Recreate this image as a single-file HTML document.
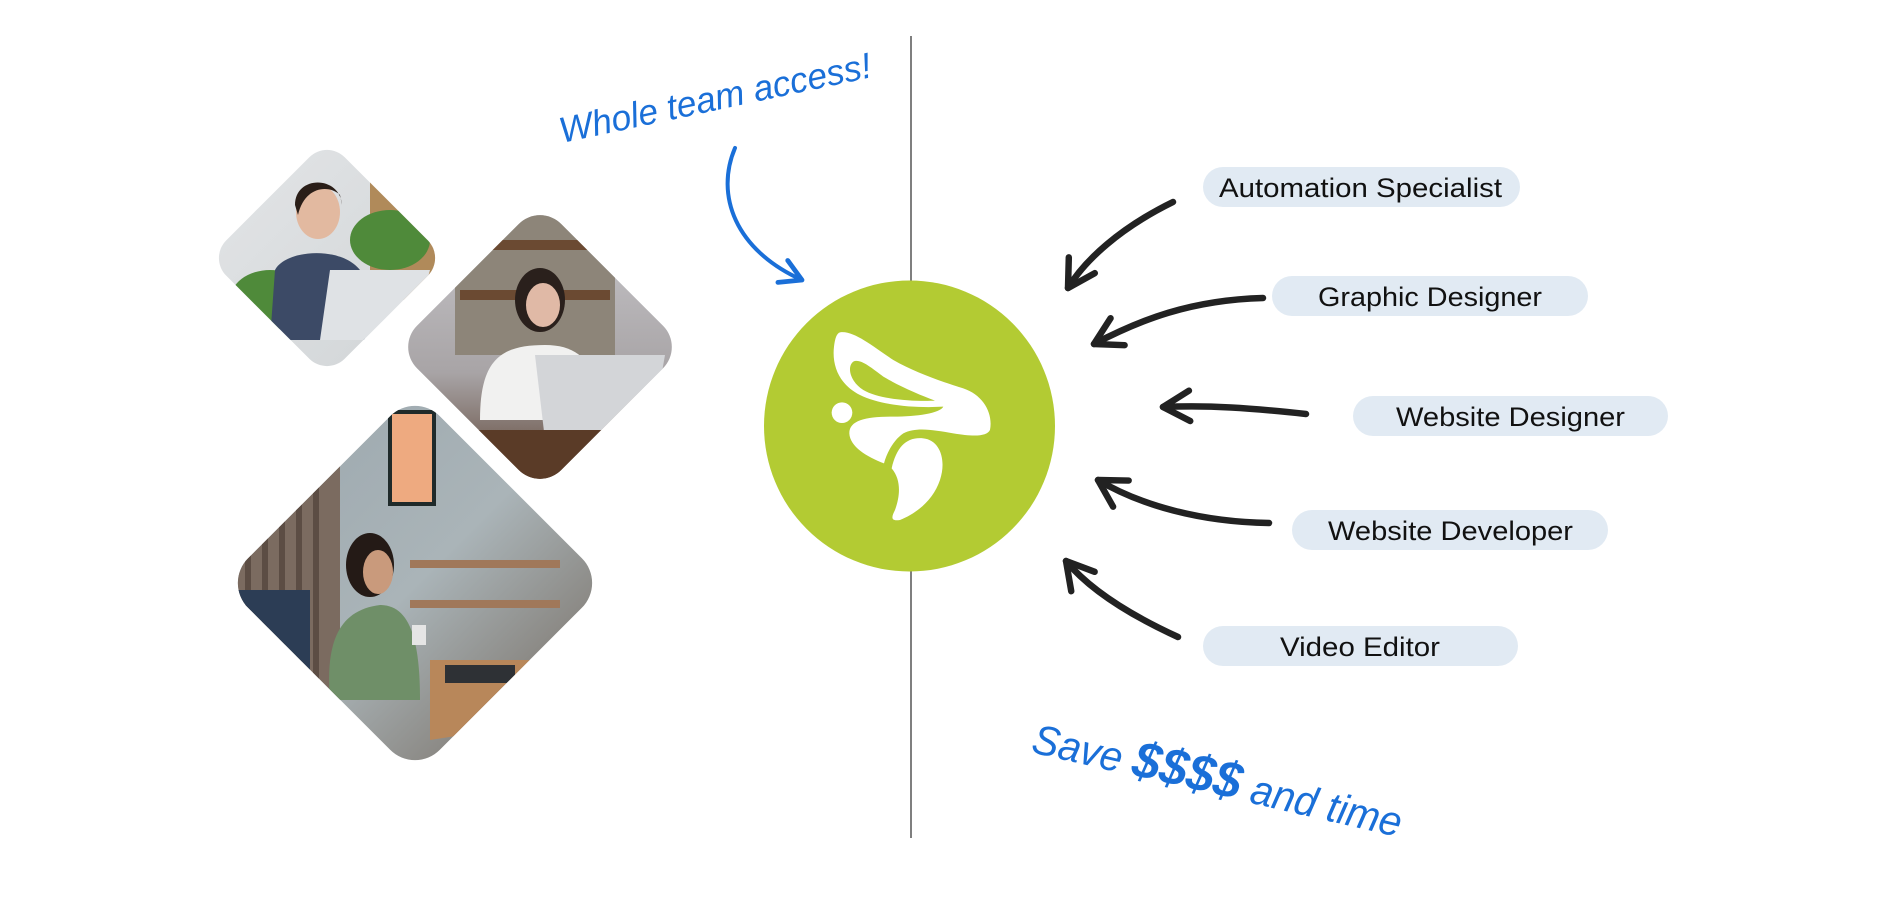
<!DOCTYPE html>
<html><head><meta charset="utf-8"><style>
html,body{margin:0;padding:0;background:#fff;}
svg{display:block;}
</style></head><body>
<svg width="1899" height="906" viewBox="0 0 1899 906" xmlns="http://www.w3.org/2000/svg">
<defs>
<clipPath id="c1"><rect x="243.25" y="174.25" width="167.5" height="167.5" rx="25" transform="rotate(45 327 258)"/></clipPath>
<clipPath id="c2"><rect x="438" y="245" width="204" height="204" rx="30" transform="rotate(45 540 347)"/></clipPath>
<clipPath id="c3"><rect x="279.5" y="447.5" width="271" height="271" rx="35" transform="rotate(45 415 583)"/></clipPath>
<linearGradient id="g1" x1="0" y1="0" x2="1" y2="1"><stop offset="0" stop-color="#e4e6e8"/><stop offset="1" stop-color="#cfd3d5"/></linearGradient>
<linearGradient id="g2" x1="0" y1="0" x2="0" y2="1"><stop offset="0" stop-color="#c9c8cc"/><stop offset="0.6" stop-color="#a8a4a6"/><stop offset="1" stop-color="#5a4030"/></linearGradient>
<linearGradient id="g3" x1="0" y1="0" x2="1" y2="1"><stop offset="0" stop-color="#9aa6ad"/><stop offset="0.5" stop-color="#aab4b8"/><stop offset="1" stop-color="#6f6256"/></linearGradient>
<marker id="ah" viewBox="0 0 10 10" refX="8.5" refY="5" markerUnits="userSpaceOnUse" markerWidth="38" markerHeight="38" orient="auto"><path d="M1.5,1 L8.5,5 L1.5,9" fill="none" stroke="#222" stroke-width="1.7" stroke-linecap="round" stroke-linejoin="round"/></marker>
<marker id="ahb" viewBox="0 0 10 10" refX="8.5" refY="5" markerUnits="userSpaceOnUse" markerWidth="30" markerHeight="30" orient="auto"><path d="M1.5,1 L8.5,5 L1.5,9" fill="none" stroke="#1a6fd8" stroke-width="1.6" stroke-linecap="round" stroke-linejoin="round"/></marker>
</defs>

<g clip-path="url(#c1)">
<rect x="200" y="130" width="260" height="260" fill="url(#g1)"/>
<rect x="370" y="180" width="70" height="120" fill="#b08a5a"/>
<ellipse cx="390" cy="240" rx="40" ry="30" fill="#4f8a3a"/>
<ellipse cx="270" cy="300" rx="40" ry="30" fill="#4f8a3a"/>
<path d="M270,340 L275,270 C285,250 340,245 360,270 L365,340 Z" fill="#3c4a66"/>
<ellipse cx="318" cy="212" rx="22" ry="27" fill="#e2b9a0"/>
<path d="M295,205 C295,175 340,175 342,205 L340,195 C330,185 305,185 298,215 Z" fill="#2a1e18"/>
<path d="M330,270 L430,270 L410,340 L320,340 Z" fill="#dfe2e5"/>
</g>
<g clip-path="url(#c2)">
<rect x="400" y="205" width="280" height="280" fill="url(#g2)"/>
<rect x="455" y="215" width="160" height="140" fill="#8d8579"/>
<rect x="460" y="240" width="150" height="10" fill="#6b4a32"/>
<rect x="460" y="290" width="150" height="10" fill="#6b4a32"/>
<ellipse cx="540" cy="300" rx="25" ry="32" fill="#2a201c"/>
<ellipse cx="543" cy="305" rx="17" ry="22" fill="#e0b9a6"/>
<path d="M480,420 C480,360 500,345 545,345 C585,345 600,370 600,420 Z" fill="#f1f1f0"/>
<path d="M535,355 L665,355 L650,440 L545,440 Z" fill="#d3d5d8"/>
<rect x="470" y="430" width="200" height="60" fill="#5a3b27"/>
</g>
<g clip-path="url(#c3)">
<rect x="230" y="400" width="370" height="370" fill="url(#g3)"/>
<rect x="230" y="400" width="110" height="370" fill="#7b6b60"/>
<g fill="#5c4d44"><rect x="245" y="430" width="6" height="340"/><rect x="262" y="430" width="6" height="340"/><rect x="279" y="430" width="6" height="340"/><rect x="296" y="430" width="6" height="340"/><rect x="313" y="430" width="6" height="340"/></g>
<rect x="388" y="410" width="48" height="96" fill="#1f2a2a"/>
<rect x="392" y="414" width="40" height="88" fill="#eeaa80"/>
<rect x="410" y="560" width="150" height="8" fill="#a0785a"/>
<rect x="410" y="600" width="150" height="8" fill="#a0785a"/>
<rect x="230" y="590" width="80" height="120" fill="#2c3d55"/>
<path d="M330,700 C325,640 340,610 380,605 C410,605 420,640 420,700 Z" fill="#6f8f68"/>
<ellipse cx="370" cy="565" rx="24" ry="32" fill="#241a16"/>
<ellipse cx="378" cy="572" rx="15" ry="22" fill="#c99a7c"/>
<rect x="412" y="625" width="14" height="20" fill="#e5e5e5"/>
<path d="M430,660 L560,660 L560,720 L430,740 Z" fill="#b8875a"/>
<rect x="445" y="665" width="70" height="18" fill="#2e3135"/>
</g>

<line x1="911" y1="36" x2="911" y2="838" stroke="#555" stroke-width="1.5"/>

<circle cx="909.5" cy="426" r="145.5" fill="#b3cb33"/>
<g transform="translate(760,280) scale(0.3333)" fill="#fff">
<path d="M240,157 C280,150 340,200 400,240 C470,280 560,310 610,325 C670,345 700,400 690,450 C680,470 640,470 580,460 C520,450 470,440 430,460 C400,480 380,520 372,550 C320,530 270,500 268,460 C268,420 320,410 400,410 C470,410 540,400 550,380 C460,385 360,375 300,345 C240,315 215,260 222,200 C225,175 230,160 240,157 Z"/>
<path d="M280,245 C300,235 330,260 370,290 C420,320 480,345 525,362 C470,365 360,360 310,330 C270,305 260,260 280,245 Z" fill="#b3cb33"/>
<circle cx="246" cy="398" r="31"/>
<path d="M395,565 C410,500 440,470 490,475 C540,480 560,540 540,600 C520,660 470,700 420,720 C390,725 395,710 405,690 C420,650 425,600 395,565 Z"/>
</g>

<text x="0" y="0" transform="translate(562,143) rotate(-12)" font-family="'Liberation Sans', sans-serif" font-style="italic" font-size="36" fill="#1a6fd8" textLength="318" lengthAdjust="spacingAndGlyphs">Whole team access!</text>
<path d="M735,148 C715,195 735,250 802,280" fill="none" stroke="#1a6fd8" stroke-width="4" stroke-linecap="round" marker-end="url(#ahb)"/>
<text x="0" y="0" transform="translate(1030,752) rotate(13)" font-family="'Liberation Sans', sans-serif" font-style="italic" font-size="42" fill="#1a6fd8" textLength="378" lengthAdjust="spacingAndGlyphs">Save <tspan font-size="52" font-weight="bold">$$$$</tspan> and time</text>

<g font-family="'Liberation Sans', sans-serif" font-size="27" fill="#111">
<rect x="1203" y="167" width="317" height="40" rx="20" fill="#e1eaf3"/>
<text x="1219" y="197" textLength="283" lengthAdjust="spacingAndGlyphs">Automation Specialist</text>
<rect x="1272" y="276" width="316" height="40" rx="20" fill="#e1eaf3"/>
<text x="1318" y="306" textLength="224" lengthAdjust="spacingAndGlyphs">Graphic Designer</text>
<rect x="1353" y="396" width="315" height="40" rx="20" fill="#e1eaf3"/>
<text x="1396" y="426" textLength="229" lengthAdjust="spacingAndGlyphs">Website Designer</text>
<rect x="1292" y="510" width="316" height="40" rx="20" fill="#e1eaf3"/>
<text x="1328" y="540" textLength="245" lengthAdjust="spacingAndGlyphs">Website Developer</text>
<rect x="1203" y="626" width="315" height="40" rx="20" fill="#e1eaf3"/>
<text x="1280" y="656" textLength="160" lengthAdjust="spacingAndGlyphs">Video Editor</text>
</g>

<g fill="none" stroke="#222" stroke-width="6.5" stroke-linecap="round">
<path d="M1173,202 C1120,228 1085,260 1068,288" marker-end="url(#ah)"/>
<path d="M1263,298 C1190,300 1140,320 1094,344" marker-end="url(#ah)"/>
<path d="M1306,414 C1250,408 1210,405 1163,407" marker-end="url(#ah)"/>
<path d="M1269,523 C1200,522 1140,505 1098,480" marker-end="url(#ah)"/>
<path d="M1178,637 C1130,615 1090,590 1066,561" marker-end="url(#ah)"/>
</g>
</svg>
</body></html>
